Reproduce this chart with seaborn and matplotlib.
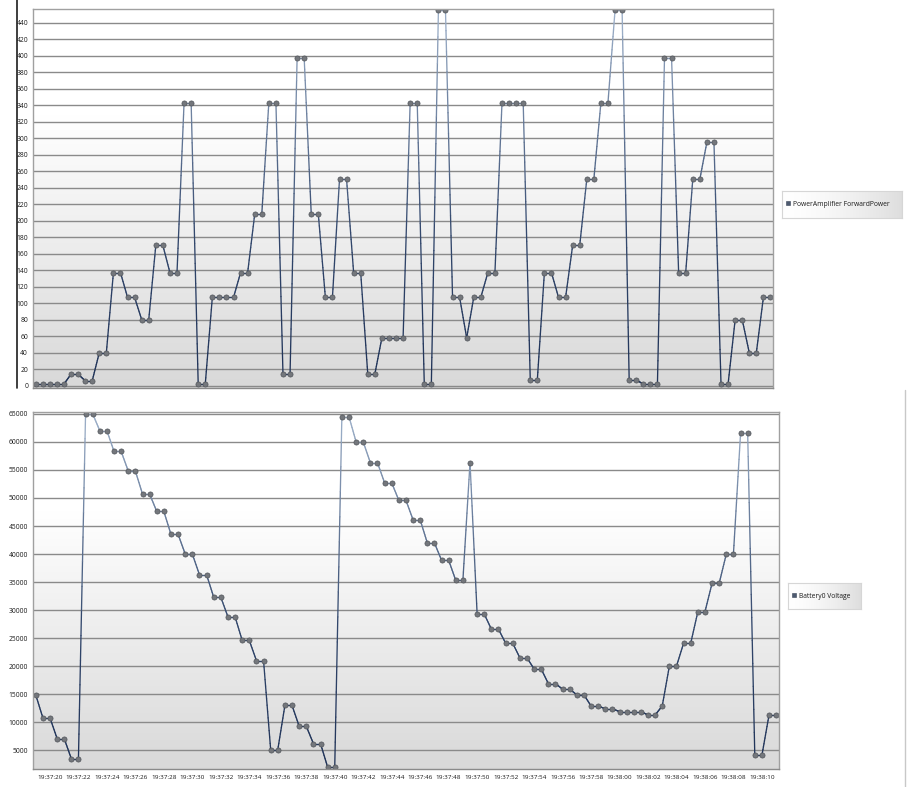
import numpy as np
import pandas as pd
import matplotlib
matplotlib.use("Agg")
import matplotlib.pyplot as plt
import seaborn as sns
from matplotlib.collections import LineCollection
from matplotlib.colors import LinearSegmentedColormap
from matplotlib.lines import Line2D

# ---------------- data ----------------
start_time = "2000-01-01 19:37:19.0"
sample_step = "500ms"

forward_power = [2, 2, 2, 2, 2, 14, 14, 6, 6, 40, 40, 137, 137, 107, 107, 80, 80,
                 170, 170, 137, 137, 343, 343, 2, 2, 107, 107, 107, 107, 137, 137,
                 208, 208, 343, 343, 14, 14, 397, 397, 208, 208, 107, 107, 250, 250,
                 137, 137, 14, 14, 58, 58, 58, 58, 343, 343, 2, 2, 455, 455, 107, 107,
                 58, 107, 107, 137, 137, 343, 343, 343, 343, 7, 7, 137, 137, 107, 107,
                 170, 170, 250, 250, 343, 343, 455, 455, 7, 7, 2, 2, 2, 397, 397,
                 137, 137, 250, 250, 295, 295, 2, 2, 80, 80, 40, 40, 107, 107]

battery_voltage = [14900, 10800, 10800, 7100, 7100, 3500, 3500, 65000, 65000,
                   62000, 62000, 58300, 58300, 54800, 54800, 50700, 50700,
                   47600, 47600, 43500, 43500, 40000, 40000, 36300, 36300,
                   32300, 32300, 28800, 28800, 24600, 24600, 21000, 21000,
                   5100, 5100, 13000, 13000, 9300, 9300, 6200, 6200, 2000, 2000,
                   64500, 64500, 60000, 60000, 56300, 56300, 52700, 52700,
                   49600, 49600, 46100, 46100, 42000, 42000, 38900, 38900,
                   35300, 35300, 56300, 29300, 29300, 26600, 26600, 24100, 24100,
                   21500, 21500, 19500, 19500, 16900, 16900, 15900, 15900,
                   14900, 14900, 12900, 12900, 12400, 12400, 11900, 11900, 11900,
                   11900, 11300, 11300, 12900, 20000, 20000, 24100, 24100,
                   29700, 29700, 34800, 34800, 40000, 40000, 61500, 61500,
                   4100, 4100, 11300, 11300]

tick_labels = ["19:37:20", "19:37:22", "19:37:24", "19:37:26", "19:37:28",
               "19:37:30", "19:37:32", "19:37:34", "19:37:36", "19:37:38",
               "19:37:40", "19:37:42", "19:37:44", "19:37:46", "19:37:48",
               "19:37:50", "19:37:52", "19:37:54", "19:37:56", "19:37:58",
               "19:38:00", "19:38:02", "19:38:04", "19:38:06", "19:38:08",
               "19:38:10"]

power_ticks = list(range(0, 441, 20))
voltage_ticks = list(range(5000, 65001, 5000))

series_names = ["PowerAmplifier ForwardPower", "Battery0 Voltage"]

# ---------------- styling ----------------
sns.set_style("white")
plt.rcParams["font.family"] = ["Open Sans", "DejaVu Sans"]

W, H = 911, 787
fig = plt.figure(figsize=(W / 100, H / 100), dpi=100)
fig.patch.set_facecolor("white")

times = pd.date_range(start_time, periods=len(forward_power), freq=sample_step)
df = pd.DataFrame({"time": times, "power": forward_power, "voltage": battery_voltage})
day = start_time.split(" ")[0]
tick_times = pd.to_datetime([day + " " + t for t in tick_labels])
x_lo = times[0] - pd.Timedelta(milliseconds=170)
x_hi = times[-1] + pd.Timedelta(milliseconds=200)

line_cmap = LinearSegmentedColormap.from_list(
    "stroke", [(0.0, "#1f3257"), (0.4, "#32476c"), (1.0, "#9fb2cb")])


def px_rect(left, top, right, bottom):
    return [left / W, 1 - bottom / H, (right - left) / W, (bottom - top) / H]


def background(rect):
    bg = fig.add_axes(rect, zorder=-5)
    f = np.linspace(0, 1, 400)
    v = np.where(f < 0.28, 1.0, 1.0 - (f - 0.28) / 0.72 * 0.15)
    img = np.stack([v, v, v], axis=-1).reshape(400, 1, 3)
    bg.imshow(img, aspect="auto", extent=[0, 1, 0, 1], interpolation="bilinear")
    bg.set_xlim(0, 1)
    bg.set_ylim(0, 1)
    bg.axis("off")


def gradient_stroke(ax, line, ylim):
    xy = line.get_xydata()
    n = 14
    segs, cols = [], []
    for (x0, y0), (x1, y1) in zip(xy[:-1], xy[1:]):
        ts = np.linspace(0, 1, n + 1)
        xs = x0 + (x1 - x0) * ts
        ys = y0 + (y1 - y0) * ts
        for i in range(n):
            segs.append([(xs[i], ys[i]), (xs[i + 1], ys[i + 1])])
            frac = ((ys[i] + ys[i + 1]) / 2 - ylim[0]) / (ylim[1] - ylim[0])
            cols.append(line_cmap(np.clip(frac, 0, 1)))
    lc = LineCollection(segs, colors=cols, linewidths=0.95,
                        zorder=line.get_zorder() - 0.1, capstyle="round")
    ax.add_collection(lc, autolim=False)
    line.set_linestyle("None")


def panel(rect, ycol, yticks, ylim, name, show_xlabels):
    background(rect)
    ax = fig.add_axes(rect)
    ax.patch.set_visible(False)
    sns.lineplot(data=df, x="time", y=ycol, ax=ax, label=name,
                 color="#34496e", linewidth=1.0, marker="o", markersize=3.7,
                 markerfacecolor="#74777c", markeredgecolor="#50545a",
                 markeredgewidth=0.5)
    leg = ax.get_legend()
    if leg is not None:
        leg.remove()
    ax.set_xlim(x_lo, x_hi)
    ax.set_ylim(*ylim)
    gradient_stroke(ax, ax.lines[0], ylim)
    ax.set_yticks(yticks)
    ax.set_yticklabels([str(v) for v in yticks])
    ax.set_xticks(tick_times)
    if show_xlabels:
        ax.set_xticklabels(tick_labels)
    else:
        ax.set_xticklabels([])
    ax.set_xlabel("")
    ax.set_ylabel("")
    ax.yaxis.grid(True, color="#8a8a8a", linewidth=1.0)
    ax.xaxis.grid(False)
    ax.set_axisbelow(True)
    ax.tick_params(axis="y", length=3, width=0.8, color="#555555",
                   labelsize=4.9, pad=0.8, labelcolor="#1a1a1a")
    ax.tick_params(axis="x", length=3, width=0.8, color="#555555",
                   labelsize=4.55, pad=1.3, labelcolor="#1a1a1a")
    for s in ax.spines.values():
        s.set_color("#a0a0a0")
        s.set_linewidth(1.0)
    ax.spines["bottom"].set_color("#8a8a8a")
    return ax


ax_top = panel(px_rect(33.3, 9.3, 773.3, 387.7), "power", power_ticks,
               (-2.4, 456), series_names[0], False)
ax_bot = panel(px_rect(33.3, 412.3, 779, 769.3), "voltage", voltage_ticks,
               (1610, 65280), series_names[1], True)


def legend_box(ax, left, top, right, bottom):
    lax = fig.add_axes(px_rect(left, top, right, bottom), zorder=3)
    gx = np.linspace(0, 1, 200)
    v = 1.0 - 0.13 * gx ** 1.5
    img = np.stack([v, v, v], axis=-1).reshape(1, 200, 3)
    lax.imshow(img, aspect="auto", extent=[0, 1, 0, 1], interpolation="bilinear")
    lax.set_xlim(0, 1)
    lax.set_ylim(0, 1)
    lax.set_xticks([])
    lax.set_yticks([])
    for s in lax.spines.values():
        s.set_color("#d6d6d6")
        s.set_linewidth(0.8)
    line = ax.lines[0]
    handle = Line2D([], [], marker="s", linestyle="None", markersize=3.0,
                    markerfacecolor="#4d5a70", markeredgecolor="#3a4558",
                    markeredgewidth=0.4)
    lax.legend([handle], [line.get_label()], loc="center left",
               bbox_to_anchor=(0.0, 0.5), frameon=False, fontsize=4.9,
               handlelength=0.7, handletextpad=0.35, borderaxespad=0.35,
               borderpad=0.2, labelcolor="#1a1a1a")


legend_box(ax_top, 782.3, 191, 902.3, 217.7)
legend_box(ax_bot, 788, 583, 861, 609)

# window frame lines
fig.add_artist(Line2D([17.3 / W, 17.3 / W], [1.0, 1 - 388 / H],
                      color="#1e1e1e", linewidth=1.2))
fig.add_artist(Line2D([904.5 / W, 904.5 / W], [1 - 390 / H, 0.0],
                      color="#c8c8c8", linewidth=1.0))

fig.savefig("out.png", dpi=100, facecolor="white")
